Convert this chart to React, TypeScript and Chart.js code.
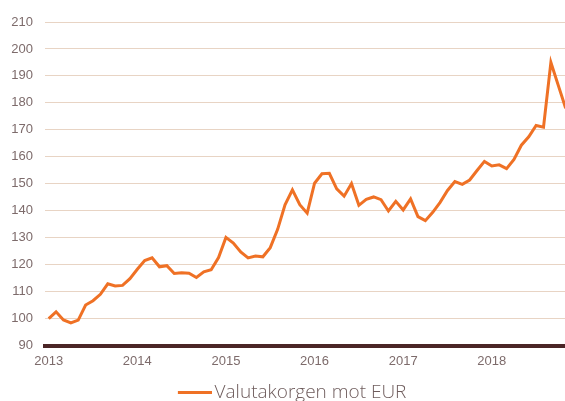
import React, { useEffect, useRef } from "react";
import { Chart, registerables } from "chart.js";

Chart.register(...registerables);

const yearLabels = ["2013", "2014", "2015", "2016", "2017", "2018"];
const seriesLabel = "Valutakorgen mot EUR";
// Monthly values, Jan 2013 onward
const basketValues = [
  100, 102.5, 99.5, 98.4, 99.4, 105, 106.6, 109, 112.9, 112.1, 112.3, 114.8,
  118.3, 121.5, 122.5, 119.2, 119.6, 116.7, 117, 116.8, 115.2, 117.3, 118.1, 122.6,
  130.1, 128, 124.7, 122.5, 123.2, 122.9, 126.3, 133.1, 142.2, 147.7, 142.2, 139.1,
  150.2, 153.7, 153.9, 148.1, 145.4, 150.1, 142, 144.2, 145.1, 144.1, 139.9, 143.5,
  140.3, 144.4, 137.8, 136.3, 139.4, 143.1, 147.5, 150.8, 149.8, 151.4, 154.9, 158.3,
  156.6, 157, 155.6, 159, 164.3, 167.4, 171.6, 171, 195, 186.5, 178,
];
const yMin = 90;
const yMax = 210;
const yStep = 10;

export default function App() {
  const ref = useRef<HTMLCanvasElement | null>(null);

  useEffect(() => {
    if (!ref.current) return;
    const orange = "#ef7125";

    // legend sample: a short line whose right end sits close to the label
    const sample = document.createElement("canvas");
    sample.width = 60;
    sample.height = 3;
    const sctx = sample.getContext("2d");
    if (sctx) {
      sctx.fillStyle = orange;
      sctx.fillRect(26, 0, 34, 3);
    }

    const chart = new Chart(ref.current, {
      type: "line",
      data: {
        datasets: [
          {
            label: seriesLabel,
            data: basketValues.map((v, i) => ({ x: i, y: v })),
            borderColor: orange,
            backgroundColor: orange,
            borderWidth: 3,
            pointRadius: 0,
            tension: 0,
          },
        ],
      },
      options: {
        animation: false,
        responsive: false,
        devicePixelRatio: 1,
        layout: { padding: { top: 22, left: 0, right: 0, bottom: 0 } },
        plugins: {
          tooltip: { enabled: false },
          legend: {
            position: "bottom",
            labels: {
              usePointStyle: true,
              pointStyleWidth: 46.5,
              boxHeight: 3,
              padding: 10,
              color: "#6e5c5c",
              font: { family: "'Open Sans', sans-serif", size: 19, weight: "300" },
              generateLabels: (c: any) =>
                Chart.defaults.plugins.legend.labels
                  .generateLabels(c)
                  .map((l: any) => ({
                    ...l,
                    lineWidth: 0,
                    fillStyle: orange,
                    pointStyle: sample,
                  })),
            },
          },
        },
        scales: {
          x: {
            type: "linear",
            min: -0.5,
            max: 69.91,
            afterBuildTicks: (s: any) => {
              s.ticks = yearLabels.map((_, i) => ({ value: i * 12 }));
            },
            afterFit: (s: any) => {
              s.height = 27.5;
            },
            ticks: {
              callback: (v: any) => yearLabels[Math.round(Number(v) / 12)] ?? "",
              color: "#7d6b6b",
              font: { family: "'Liberation Sans', sans-serif", size: 13 },
              padding: 8,
              maxRotation: 0,
              autoSkip: false,
            },
            grid: { color: "transparent", drawTicks: false },
            border: { display: true, color: "#4b2526", width: 4 },
          },
          y: {
            min: yMin,
            max: yMax,
            ticks: {
              stepSize: yStep,
              color: "#7d6b6b",
              font: { family: "'Liberation Sans', sans-serif", size: 13 },
              padding: 12,
            },
            afterFit: (s: any) => {
              s.width = 45;
            },
            grid: { color: "#e8d4c4", lineWidth: 1, drawTicks: false },
            border: { display: false },
          },
        },
      },
    });
    return () => chart.destroy();
  }, []);

  return (
    <div
      style={{
        position: "absolute",
        left: 0,
        top: 0,
        width: 565,
        height: 401,
        overflow: "hidden",
        background: "#fff",
      }}
    >
      <canvas ref={ref} width={565} height={412} style={{ display: "block" }} />
    </div>
  );
}
